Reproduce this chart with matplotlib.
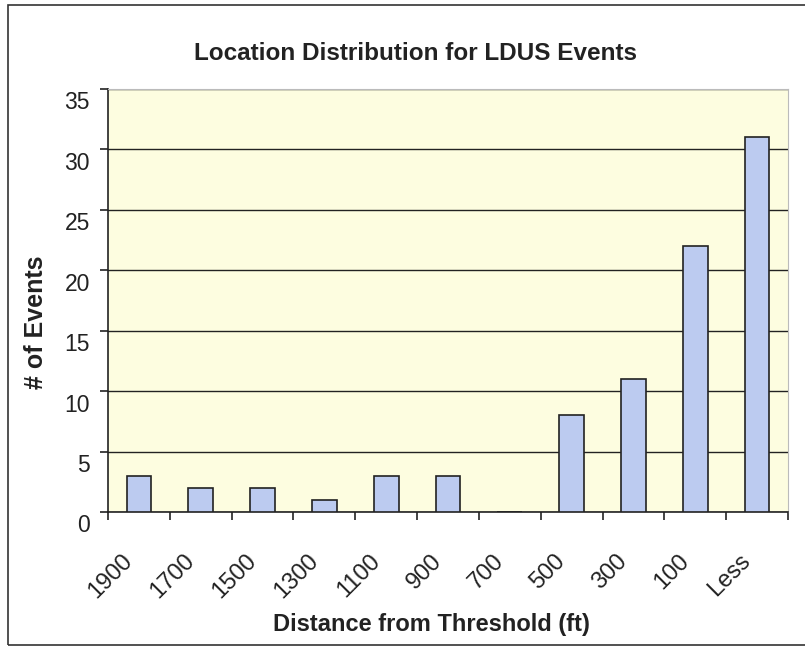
import matplotlib.pyplot as plt
from matplotlib.patches import Rectangle

plt.rcParams['font.family'] = ['Liberation Sans', 'DejaVu Sans']

# DATA
categories = ['1900', '1700', '1500', '1300', '1100', '900', '700', '500', '300', '100', 'Less']
events = [3, 2, 2, 1, 3, 3, 0, 8, 11, 22, 31]
yticks = [0, 5, 10, 15, 20, 25, 30, 35]

# PLOTTING
fig = plt.figure(figsize=(8.05, 6.48), dpi=100)
fig.patches.append(Rectangle((8/805, 3/648), 1.0, 640/648, transform=fig.transFigure,
                             fill=False, edgecolor='#333333', linewidth=1.2))

ax = fig.add_axes([108/805, 1 - 512/648, 680/805, 423/648])
ax.set_facecolor('#fdfde0')

x = list(range(len(categories)))
ax.bar(x, events, width=0.4, color='#bccbf0', edgecolor='#222222', linewidth=1.2, zorder=3)

ax.set_xlim(-0.5, len(categories) - 0.5)
ax.set_ylim(0, 35)
ax.set_yticks(yticks)
ax.set_yticklabels([])
ax.yaxis.grid(True, color='#222222', linewidth=1.0, zorder=1)
# y labels drawn by hand: they sit a little below their gridlines in the original
for v in yticks:
    ax.annotate(str(v), xy=(0, v), xycoords=('axes fraction', 'data'),
                xytext=(-13, -10), textcoords='offset points', color='#222222',
                ha='right', va='center', fontsize=16.5)

ax.set_xticks([i - 0.5 for i in range(len(categories) + 1)])
ax.set_xticklabels([])
for i, c in enumerate(categories):
    ax.annotate(c, xy=(i, 0), xycoords=('data', 'axes fraction'),
                xytext=(-7, -33), textcoords='offset points', color='#222222',
                rotation=45, ha='right', va='center', rotation_mode='anchor', fontsize=17)

ax.tick_params(axis='both', direction='out', length=6, width=1.2, color='#222222')
for s in ['top', 'right']:
    ax.spines[s].set_color('#bbbbbb')
    ax.spines[s].set_linewidth(0.8)
for s in ['left', 'bottom']:
    ax.spines[s].set_color('#222222')
    ax.spines[s].set_linewidth(1.2)

fig.text(415/805, 1 - 54/648, 'Location Distribution for LDUS Events',
         ha='center', va='center', fontsize=17.5, fontweight='bold', color='#222222')
fig.text(36/805, 1 - 322/648, '# of Events', rotation=90,
         ha='center', va='center', fontsize=18, fontweight='bold', color='#222222')
fig.text(431/805, 1 - 625/648, 'Distance from Threshold (ft)',
         ha='center', va='center', fontsize=17, fontweight='bold', color='#222222')

plt.savefig('out.png', dpi=100)
